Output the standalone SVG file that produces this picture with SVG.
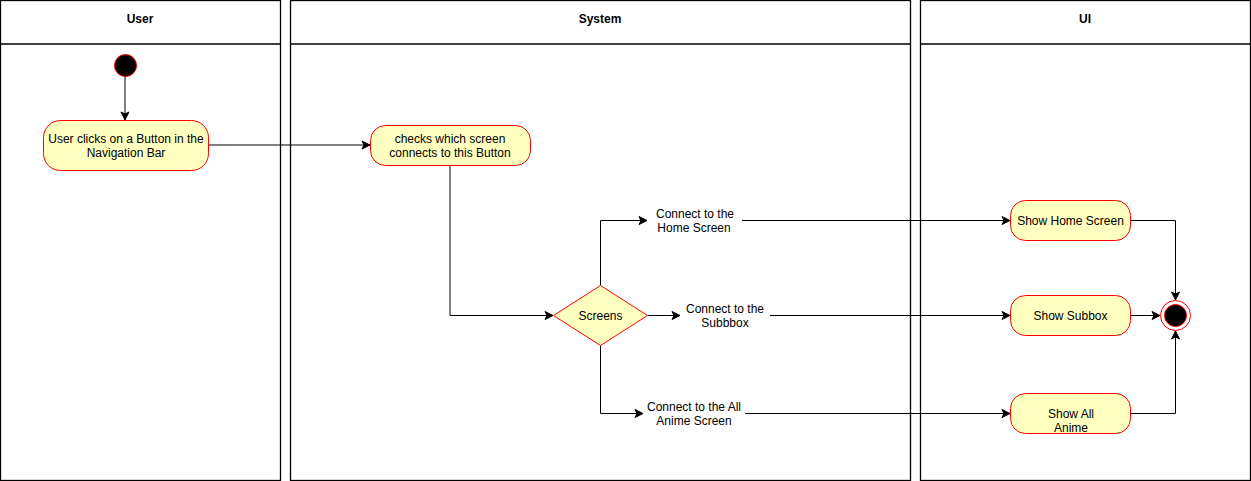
<svg xmlns="http://www.w3.org/2000/svg" width="1251" height="481" viewBox="0 0 1251 481">
<style>
.lane{fill:#fff;stroke:#000;stroke-width:1.3}
.hdr{font-family:"Liberation Sans",Arial,sans-serif;font-size:12px;font-weight:bold;fill:#000;text-anchor:middle}
.act{fill:#ffffc0;stroke:#ff0000;stroke-width:1}
.t{font-family:"Liberation Sans",Arial,sans-serif;font-size:12px;fill:#000;text-anchor:middle}
.c{fill:none;stroke:#000;stroke-width:1}
</style>
<defs>
<marker id="arr" markerWidth="10" markerHeight="10" refX="9" refY="5" orient="auto" markerUnits="userSpaceOnUse">
<path d="M1,1 L9,5 L1,9 L3,5 Z" fill="#000" stroke="#000" stroke-width="1"/>
</marker>
</defs>
<rect width="1251" height="481" fill="#fff"/>
<g id="lane-user">
<rect class="lane" x="0.5" y="0.5" width="280" height="480"/>
<line class="lane" x1="0.5" y1="44" x2="280.5" y2="44"/>
<text class="hdr" x="140" y="23">User</text>
</g>
<g id="lane-system">
<rect class="lane" x="290.5" y="0.5" width="620" height="480"/>
<line class="lane" x1="290.5" y1="44" x2="910.5" y2="44"/>
<text class="hdr" x="600" y="23">System</text>
</g>
<g id="lane-ui">
<rect class="lane" x="920.5" y="0.5" width="330" height="480"/>
<line class="lane" x1="920.5" y1="44" x2="1250.5" y2="44"/>
<text class="hdr" x="1085" y="23">UI</text>
</g>
<g id="connectors">
<path class="c" d="M125,76 V120" marker-end="url(#arr)"/>
<path class="c" d="M208,145 H370" marker-end="url(#arr)"/>
<path class="c" d="M450,165 V315.5 H553" marker-end="url(#arr)"/>
<path class="c" d="M600.5,285 V220.5 H647" marker-end="url(#arr)"/>
<path class="c" d="M742,220.5 H1010" marker-end="url(#arr)"/>
<path class="c" d="M648,315.5 H680" marker-end="url(#arr)"/>
<path class="c" d="M770,315.5 H1010" marker-end="url(#arr)"/>
<path class="c" d="M600.5,345 V413.5 H643" marker-end="url(#arr)"/>
<path class="c" d="M745,413.5 H1010" marker-end="url(#arr)"/>
<path class="c" d="M1130,220.5 H1175.5 V300" marker-end="url(#arr)"/>
<path class="c" d="M1130,315.5 H1160" marker-end="url(#arr)"/>
<path class="c" d="M1130,413.5 H1175.5 V331" marker-end="url(#arr)"/>
</g>
<g id="start">
<circle cx="125.5" cy="65.5" r="11" fill="#000" stroke="#ff0000" stroke-width="1"/>
</g>
<g id="user-clicks">
<rect class="act" x="43.5" y="120.5" width="165" height="50" rx="17"/>
<text class="t" x="126" y="143">User clicks on a Button in the</text>
<text class="t" x="126" y="157">Navigation Bar</text>
</g>
<g id="checks">
<rect class="act" x="370.5" y="125.5" width="160" height="40" rx="15"/>
<text class="t" x="450" y="143">checks which screen</text>
<text class="t" x="450" y="157">connects to this Button</text>
</g>
<g id="screens">
<polygon class="act" points="600.5,285.5 647.5,315.5 600.5,345.5 553.5,315.5"/>
<text class="t" x="600.5" y="320">Screens</text>
</g>
<g id="label-home">
<text class="t" x="695" y="218">Connect to the</text>
<text class="t" x="694" y="232">Home Screen</text>
</g>
<g id="label-subbox">
<text class="t" x="725" y="313">Connect to the</text>
<text class="t" x="725" y="327">Subbbox</text>
</g>
<g id="label-all">
<text class="t" x="694" y="411">Connect to the All</text>
<text class="t" x="694" y="425">Anime Screen</text>
</g>
<g id="show-home">
<rect class="act" x="1010.5" y="200.5" width="120" height="40" rx="15"/>
<text class="t" x="1070.5" y="225">Show Home Screen</text>
</g>
<g id="show-subbox">
<rect class="act" x="1010.5" y="295.5" width="120" height="40" rx="15"/>
<text class="t" x="1070.5" y="320">Show Subbox</text>
</g>
<g id="show-all">
<rect class="act" x="1010.5" y="393.5" width="120" height="40" rx="15"/>
<text class="t" x="1071" y="418">Show All</text>
<text class="t" x="1071" y="432">Anime</text>
</g>
<g id="end">
<circle cx="1175.5" cy="315.5" r="15" fill="#fff" stroke="#ff0000" stroke-width="1"/>
<circle cx="1175.5" cy="315.5" r="11" fill="#000" stroke="#ff0000" stroke-width="1"/>
</g>
</svg>
